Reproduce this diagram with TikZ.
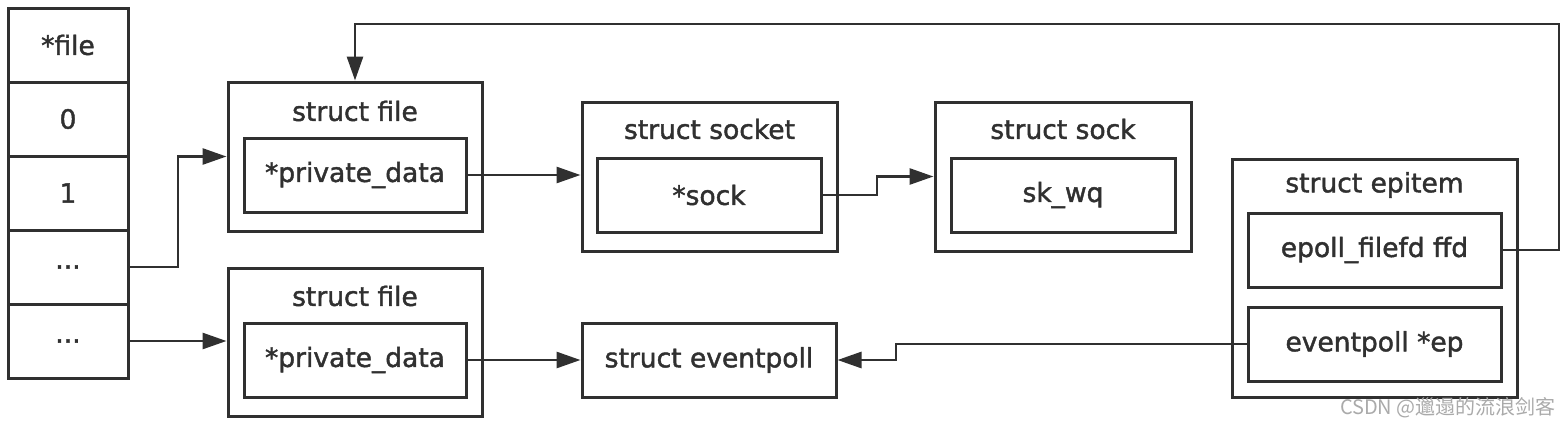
\documentclass[tikz,border=0pt]{standalone}
\usepackage{fontspec}
\setmainfont{DejaVu Sans}[FakeBold=1.6]
\newfontfamily\cjkwm{Noto Sans CJK SC}
\usetikzlibrary{arrows.meta}
\definecolor{ink}{RGB}{48,48,48}
\definecolor{wm}{RGB}{170,170,170}
\tikzset{
  box/.style={draw=ink, line width=3pt, rectangle, inner sep=0pt, text=ink,
    font=\fontsize{26.5}{30}\selectfont},
  cell/.style={box, minimum width=120pt, minimum height=74pt},
  inbox/.style={box, minimum height=74pt},
  outbox/.style={box},
  ttl/.style={text=ink, inner sep=0pt, font=\fontsize{26.5}{30}\selectfont},
  conn/.style={draw=ink, line width=2.8pt},
  arr/.style={conn, -{Triangle[length=24pt,width=16pt]}},
}
\begin{document}
\begin{tikzpicture}[x=1pt,y=-1pt]
\useasboundingbox (0,0) rectangle (1568,426);
% table
\node[cell] (c0) at (68,45) {*file};
\node[cell] (c1) at (68,119) {0};
\node[cell] (c2) at (68,193) {1};
\node[cell] (c3) at (68,267) {...};
\node[cell] (c4) at (68,341) {...};
% struct file 1
\node[outbox, minimum width=254pt, minimum height=149pt] (file1) at (355,156.5) {};
\node[ttl] (t1) at (355,111) {struct file};
\node[inbox, minimum width=222pt] (pd1) at (355,175) {*private\_data};
% struct file 2
\node[outbox, minimum width=254pt, minimum height=148pt] (file2) at (355,342) {};
\node[ttl] (t2) at (355,296) {struct file};
\node[inbox, minimum width=222pt] (pd2) at (355,360) {*private\_data};
% struct socket
\node[outbox, minimum width=255pt, minimum height=149pt] (socket) at (709.5,176.5) {};
\node[ttl] (t3) at (709.5,129) {struct socket};
\node[inbox, minimum width=224pt] (sockp) at (709,195) {*sock};
% struct sock
\node[outbox, minimum width=256pt, minimum height=149pt] (sock) at (1063,176.5) {};
\node[ttl] (t4) at (1063,129) {struct sock};
\node[inbox, minimum width=224pt] (skwq) at (1063,195) {sk\_wq};
% struct eventpoll
\node[inbox, minimum width=254pt] (evp) at (709,360) {struct eventpoll};
% struct epitem
\node[outbox, minimum width=285pt, minimum height=238pt] (epitem) at (1374.5,278) {};
\node[ttl] (t5) at (1374.5,185) {struct epitem};
\node[inbox, minimum width=253pt] (ffd) at (1374.5,250) {epoll\_filefd ffd};
\node[inbox, minimum width=253pt] (ep) at (1374.5,344) {eventpoll *ep};
% connectors
\draw[arr] (c3.east) -- (178,267) |- (file1.west);
\draw[arr] (c4.east) -- (c4.east -| file2.west);
\draw[arr] (pd1.east) -- (pd1.east -| socket.west);
\draw[arr] (pd2.east) -- (pd2.east -| evp.west);
\draw[arr] (sockp.east) -- (877,195) |- (sock.west);
\draw[arr] (ffd.east) -| (1559,24) -| (file1.north);
\draw[arr] (ep.west) -- (896,344) |- (evp.east);
% watermark
\node[anchor=east, inner sep=0pt, text=wm, font=\cjkwm\fontsize{20}{24}\selectfont] (wmk) at (1556,408) {CSDN @邋遢的流浪剑客};
\end{tikzpicture}
\end{document}
